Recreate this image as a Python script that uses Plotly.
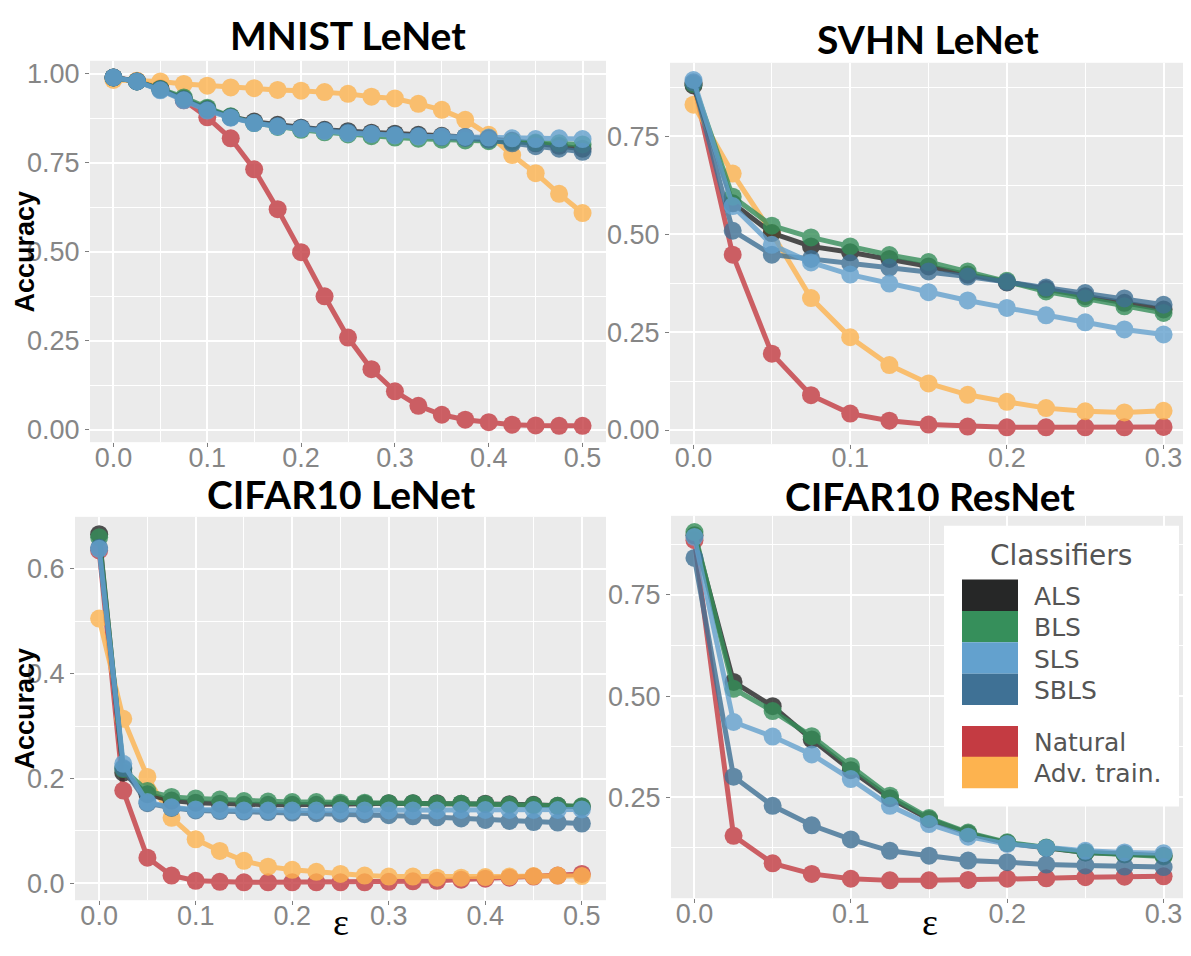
import plotly.graph_objects as go

# epsilon grids
eps_05 = [0.0, 0.025, 0.05, 0.075, 0.1, 0.125, 0.15, 0.175, 0.2, 0.225, 0.25,
          0.275, 0.3, 0.325, 0.35, 0.375, 0.4, 0.425, 0.45, 0.475, 0.5]
eps_03 = [0.0, 0.025, 0.05, 0.075, 0.1, 0.125, 0.15, 0.175, 0.2, 0.225, 0.25,
          0.275, 0.3]

# MNIST LeNet
mnist_natural = [0.990, 0.980, 0.960, 0.926, 0.878, 0.819, 0.732, 0.620, 0.499, 0.375, 0.259,
                 0.170, 0.108, 0.067, 0.042, 0.028, 0.021, 0.014, 0.012, 0.011, 0.011]
mnist_adv = [0.983, 0.981, 0.979, 0.972, 0.967, 0.962, 0.960, 0.955, 0.953, 0.949, 0.944,
             0.936, 0.931, 0.916, 0.899, 0.871, 0.829, 0.772, 0.721, 0.663, 0.609]
mnist_als = [0.990, 0.979, 0.957, 0.930, 0.902, 0.880, 0.866, 0.857, 0.849, 0.843, 0.839,
             0.835, 0.832, 0.829, 0.826, 0.823, 0.819, 0.812, 0.805, 0.798, 0.790]
mnist_bls = [0.990, 0.979, 0.958, 0.934, 0.905, 0.881, 0.862, 0.851, 0.843, 0.836, 0.830,
             0.825, 0.821, 0.818, 0.815, 0.813, 0.811, 0.809, 0.807, 0.805, 0.802]
mnist_sls = [0.990, 0.979, 0.954, 0.926, 0.897, 0.877, 0.862, 0.852, 0.846, 0.839, 0.833,
             0.831, 0.827, 0.824, 0.824, 0.823, 0.821, 0.819, 0.817, 0.819, 0.817]
mnist_sbls = [0.990, 0.979, 0.956, 0.928, 0.899, 0.878, 0.863, 0.854, 0.847, 0.841, 0.836,
              0.832, 0.829, 0.826, 0.823, 0.820, 0.815, 0.805, 0.797, 0.790, 0.781]

# SVHN LeNet
svhn_natural = [0.885, 0.448, 0.195, 0.089, 0.042, 0.024, 0.014, 0.009, 0.007, 0.007, 0.007, 0.007, 0.008]
svhn_adv = [0.831, 0.655, 0.503, 0.337, 0.237, 0.166, 0.119, 0.090, 0.072, 0.056, 0.048, 0.045, 0.049]
svhn_als = [0.880, 0.579, 0.503, 0.469, 0.454, 0.437, 0.418, 0.397, 0.377, 0.360, 0.342, 0.325, 0.308]
svhn_bls = [0.884, 0.596, 0.522, 0.492, 0.469, 0.447, 0.429, 0.405, 0.381, 0.354, 0.336, 0.316, 0.299]
svhn_sls = [0.894, 0.572, 0.473, 0.428, 0.397, 0.374, 0.352, 0.331, 0.312, 0.293, 0.275, 0.257, 0.244]
svhn_sbls = [0.888, 0.509, 0.448, 0.437, 0.426, 0.415, 0.405, 0.392, 0.378, 0.364, 0.350, 0.336, 0.320]

# CIFAR10 LeNet
cl_natural = [0.635, 0.177, 0.049, 0.015, 0.005, 0.003, 0.002, 0.002, 0.002, 0.002, 0.002,
              0.002, 0.003, 0.004, 0.005, 0.007, 0.009, 0.011, 0.013, 0.015, 0.018]
cl_adv = [0.505, 0.314, 0.203, 0.125, 0.084, 0.062, 0.043, 0.032, 0.026, 0.022, 0.018,
          0.015, 0.013, 0.013, 0.011, 0.011, 0.012, 0.013, 0.014, 0.015, 0.014]
cl_als = [0.666, 0.211, 0.170, 0.158, 0.154, 0.152, 0.150, 0.150, 0.150, 0.150, 0.151,
          0.152, 0.153, 0.153, 0.153, 0.152, 0.152, 0.151, 0.150, 0.148, 0.146]
cl_bls = [0.660, 0.218, 0.176, 0.165, 0.162, 0.160, 0.157, 0.156, 0.155, 0.155, 0.154,
          0.154, 0.153, 0.153, 0.152, 0.152, 0.151, 0.150, 0.149, 0.148, 0.147]
cl_sls = [0.638, 0.228, 0.155, 0.145, 0.141, 0.140, 0.139, 0.139, 0.139, 0.139, 0.139,
          0.139, 0.139, 0.139, 0.139, 0.140, 0.140, 0.140, 0.140, 0.140, 0.141]
cl_sbls = [0.640, 0.220, 0.153, 0.144, 0.139, 0.138, 0.137, 0.136, 0.135, 0.134, 0.133,
           0.132, 0.130, 0.128, 0.126, 0.124, 0.121, 0.119, 0.117, 0.116, 0.114]

# CIFAR10 ResNet (no adversarial training curve)
cr_natural = [0.885, 0.155, 0.087, 0.061, 0.049, 0.045, 0.045, 0.046, 0.049, 0.050, 0.053, 0.054, 0.055]
cr_als = [0.897, 0.535, 0.475, 0.393, 0.317, 0.248, 0.196, 0.161, 0.137, 0.125, 0.114, 0.110, 0.106]
cr_bls = [0.905, 0.518, 0.463, 0.401, 0.327, 0.254, 0.199, 0.163, 0.139, 0.126, 0.114, 0.109, 0.104]
cr_sls = [0.893, 0.436, 0.400, 0.356, 0.295, 0.229, 0.184, 0.153, 0.135, 0.125, 0.118, 0.114, 0.112]
cr_sbls = [0.841, 0.301, 0.229, 0.181, 0.146, 0.118, 0.106, 0.094, 0.090, 0.084, 0.082, 0.079, 0.078]

names = ["ALS", "BLS", "SLS", "SBLS", "Natural", "Adv. train."]
colors = ["#262727", "#368F5B", "#63A1CE", "#3F7195", "#C43B42", "#FDB34F"]
col = dict(zip(names, colors))
draw_order = ["Natural", "Adv. train.", "ALS", "BLS", "SBLS", "SLS"]

# the page body has an 8px margin, so the figure sits at (8, 8)
OFF = 8
FW, FH = 1191 - 2 * OFF, 956 - 2 * OFF


def px(x):
    return (x - OFF) / FW


def py(y):
    return 1 - (y - OFF) / FH


panels = [
    dict(title="MNIST LeNet", eps=eps_05, ax="", xr=[-0.025, 0.525], yr=[-0.035, 1.037],
         dom_x=(90, 606), dom_y=(60, 443), ydt=0.25, yfmt=".2f", ylab=True, xlab=False,
         title_y=36, cx=348, standoff=-13,
         data={"Natural": mnist_natural, "Adv. train.": mnist_adv, "ALS": mnist_als,
               "BLS": mnist_bls, "SLS": mnist_sls, "SBLS": mnist_sbls}),
    dict(title="SVHN LeNet", eps=eps_03, ax="2", xr=[-0.015, 0.3124], yr=[-0.036, 0.938],
         dom_x=(670, 1183), dom_y=(62, 445), ydt=0.25, yfmt=".2f", ylab=False, xlab=False,
         title_y=40, cx=928, standoff=-15,
         data={"Natural": svhn_natural, "Adv. train.": svhn_adv, "ALS": svhn_als,
               "BLS": svhn_bls, "SLS": svhn_sls, "SBLS": svhn_sbls}),
    dict(title="CIFAR10 LeNet", eps=eps_05, ax="3", xr=[-0.025, 0.525], yr=[-0.032, 0.699],
         dom_x=(75, 606), dom_y=(518, 903), ydt=0.2, yfmt=".1f", ylab=True, xlab=True,
         title_y=497, cx=341, standoff=-13,
         data={"Natural": cl_natural, "Adv. train.": cl_adv, "ALS": cl_als,
               "BLS": cl_bls, "SLS": cl_sls, "SBLS": cl_sbls}),
    dict(title="CIFAR10 ResNet", eps=eps_03, ax="4", xr=[-0.015, 0.3124], yr=[0.001, 0.945],
         dom_x=(671, 1183), dom_y=(517, 901), ydt=0.25, yfmt=".2f", ylab=False, xlab=True,
         title_y=499, cx=930, standoff=-13,
         data={"Natural": cr_natural, "ALS": cr_als,
               "BLS": cr_bls, "SLS": cr_sls, "SBLS": cr_sbls}),
]

tick_font = dict(family="Liberation Sans, Arial, sans-serif", size=27, color="#868686")

fig = go.Figure()
layout = dict(width=FW, height=FH, margin=dict(l=0, r=0, t=0, b=0),
              paper_bgcolor="white", plot_bgcolor="#EBEBEB", showlegend=False)
annotations = []
shapes = []

for p in panels:
    for name in draw_order:
        if name not in p["data"]:
            continue
        fig.add_trace(go.Scatter(
            x=p["eps"], y=p["data"][name], mode="lines+markers", name=name,
            line=dict(color=col[name], width=5),
            marker=dict(color=col[name], size=18),
            opacity=0.8, xaxis="x" + p["ax"], yaxis="y" + p["ax"],
            showlegend=False))

    x0, x1 = p["dom_x"]
    y0, y1 = p["dom_y"]
    layout["xaxis" + p["ax"]] = dict(
        domain=[px(x0), px(x1)], range=p["xr"], anchor="y" + p["ax"],
        tick0=0, dtick=0.1, tickformat=".1f", tickfont=tick_font,
        ticklabelstandoff=p["standoff"],
        showgrid=True, gridcolor="white", gridwidth=2, zeroline=False,
        ticks="outside", ticklen=4, tickwidth=1.2, tickcolor="#7f7f7f",
        showline=False, minor=dict(dtick=0.05, tick0=0, showgrid=True,
                                   gridcolor="white", gridwidth=1, ticks=""))
    layout["yaxis" + p["ax"]] = dict(
        domain=[py(y1), py(y0)], range=p["yr"], anchor="x" + p["ax"],
        tick0=0, dtick=p["ydt"], tickformat=p["yfmt"], tickfont=tick_font,
        showgrid=True, gridcolor="white", gridwidth=2, zeroline=False,
        ticks="outside", ticklen=4, tickwidth=1.2, tickcolor="#7f7f7f",
        showline=False, minor=dict(dtick=p["ydt"] / 2, tick0=0, showgrid=True,
                                   gridcolor="white", gridwidth=1, ticks=""))

    annotations.append(dict(
        text=p["title"], x=px(p["cx"]), y=py(p["title_y"] - 2), xref="paper", yref="paper",
        xanchor="center", yanchor="middle", showarrow=False,
        font=dict(family="Lato, sans-serif", size=39, color="black", weight="bold")))
    if p["ylab"]:
        annotations.append(dict(
            text="Accuracy", x=px(25), y=py((y0 + y1) / 2), xref="paper", yref="paper",
            xanchor="center", yanchor="middle", showarrow=False, textangle=-90,
            font=dict(family="Liberation Sans, Arial, sans-serif", size=27, color="black",
                      weight="bold")))
    if p["xlab"]:
        annotations.append(dict(
            text="ε", x=px(p["cx"]), y=0, xref="paper", yref="paper",
            xanchor="center", yanchor="bottom", showarrow=False,
            font=dict(family="Liberation Serif, serif", size=38, color="black")))

# legend drawn inside the CIFAR10 ResNet panel
box = (944, 527, 1179, 809)
shapes.append(dict(type="rect", xref="paper", yref="paper", x0=px(box[0]), x1=px(box[2]),
                   y0=py(box[3]), y1=py(box[1]), fillcolor="white", line=dict(width=0),
                   layer="above"))
annotations.append(dict(
    text="Classifiers", x=px(1061), y=py(557), xref="paper", yref="paper",
    xanchor="center", yanchor="middle", showarrow=False,
    font=dict(family="DejaVu Sans, sans-serif", size=28, color="#555555")))
key_tops = [581, 612.5, 644, 675.5, 728, 759]
for name, top in zip(names, key_tops):
    shapes.append(dict(type="rect", xref="paper", yref="paper",
                       x0=px(962), x1=px(1018), y0=py(top + 31.5), y1=py(top),
                       fillcolor=col[name], line=dict(width=0), layer="above"))
    annotations.append(dict(
        text=name, x=px(1032), y=py(top + 17), xref="paper", yref="paper",
        xanchor="left", yanchor="middle", showarrow=False,
        font=dict(family="DejaVu Sans, sans-serif", size=25, color="#555555")))

layout["annotations"] = annotations
layout["shapes"] = shapes
fig.update_layout(**layout)

fig.write_html("out.html")
